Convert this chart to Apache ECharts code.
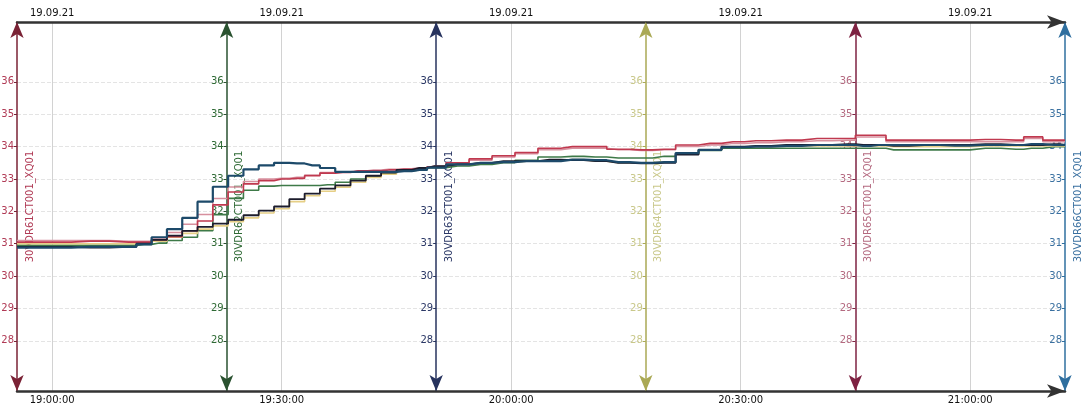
<!DOCTYPE html>
<html>
<head>
<meta charset="utf-8">
<script src="https://cdn.jsdelivr.net/npm/echarts@6/dist/echarts.min.js"></script>
<style>
  html, body { margin: 0; padding: 0; background: #ffffff; }
  #chart { width: 1083px; height: 408px; }
</style>
</head>
<body>
<div id="chart"></div>
<script>
// Time axis: minutes after 19:00 on 19.09.21
const tickMinutes = [0, 30, 60, 90, 120];
const timeLabels = ['19:00:00', '19:30:00', '20:00:00', '20:30:00', '21:00:00'];
const dateLabels = ['19.09.21', '19.09.21', '19.09.21', '19.09.21', '19.09.21'];

// Temperature scale ticks shared by every tag axis
const yTicks = [28, 29, 30, 31, 32, 33, 34, 35, 36];

const tagNames = [
  '30VDR61CT001_XQ01', '30VDR62CT001_XQ01', '30VDR63CT001_XQ01',
  '30VDR64CT001_XQ01', '30VDR65CT001_XQ01', '30VDR66CT001_XQ01'
];

// Sample times (minutes after 19:00)
const minutes = [
  -4.6, 0, 5, 10, 12, 14, 16, 18, 20, 22,
  24, 26, 28, 30, 32, 34, 36, 38, 40, 42,
  44, 46, 48, 50, 53, 56, 59, 62, 65, 68,
  71, 74, 77, 80, 83, 86, 89, 92, 96, 100,
  104, 106, 108, 110, 114, 118, 122, 126, 128, 131,
  132.4
];

const vdr61 = [
  31.05, 31.05, 31.08, 31.05, 31.05, 31.12, 31.22, 31.4, 31.7, 32.2,
  32.6, 32.85, 32.95, 33.0, 33.02, 33.1, 33.18, 33.2, 33.25, 33.25,
  33.28, 33.3, 33.3, 33.38, 33.5, 33.62, 33.72, 33.82, 33.95, 34.0,
  34.0, 33.92, 33.9, 33.92, 34.05, 34.1, 34.15, 34.18, 34.2, 34.25,
  34.25, 34.35, 34.35, 34.2, 34.2, 34.2, 34.22, 34.2, 34.3, 34.2,
  34.2
];
const vdr62 = [
  30.95, 30.95, 30.95, 30.95, 30.98, 31.02, 31.1, 31.2, 31.4, 31.9,
  32.4, 32.65, 32.78, 32.8, 32.8, 32.8, 32.82, 32.9, 33.0, 33.08,
  33.18, 33.25, 33.28, 33.35, 33.4, 33.45, 33.5, 33.58, 33.68, 33.7,
  33.68, 33.65, 33.65, 33.7, 33.78, 33.88, 33.95, 33.95, 33.95, 33.95,
  33.95, 33.95, 33.95, 33.9, 33.9, 33.9, 33.95, 33.92, 33.95, 34.0,
  34.0
];
const vdr63 = [
  30.9, 30.9, 30.88, 30.9, 31.0, 31.12, 31.25, 31.4, 31.52, 31.62,
  31.74, 31.88, 32.02, 32.15, 32.38, 32.55, 32.7, 32.8, 32.95, 33.1,
  33.2, 33.28, 33.34, 33.4, 33.45, 33.5, 33.55, 33.55, 33.6, 33.58,
  33.55, 33.5, 33.48, 33.5, 33.75, 33.9, 34.0, 34.02, 34.05, 34.05,
  34.08, 34.05, 34.05, 34.02, 34.05, 34.05, 34.08, 34.05, 34.05, 34.08,
  34.05
];
const vdr64 = [
  31.0, 31.0, 31.0, 31.0, 31.0, 31.08, 31.2, 31.32, 31.45, 31.55,
  31.68, 31.8, 31.95, 32.08, 32.3, 32.48, 32.62, 32.75, 32.9, 33.05,
  33.15, 33.25, 33.3, 33.38, 33.45, 33.5, 33.52, 33.55, 33.58, 33.6,
  33.55, 33.5, 33.5, 33.52, 33.78, 33.9, 33.98, 34.0, 34.02, 34.02,
  34.02, 34.02, 34.02, 34.0, 34.0, 34.0, 34.02, 34.02, 34.02, 34.02,
  34.02
];
const vdr65 = [
  31.1, 31.1, 31.1, 31.08, 31.08, 31.18, 31.35, 31.6, 31.9, 32.4,
  32.75, 32.92, 33.0, 33.02, 33.05, 33.12, 33.2, 33.22, 33.25, 33.28,
  33.3, 33.32, 33.35, 33.4, 33.5, 33.58, 33.68, 33.78, 33.9, 33.95,
  33.95, 33.9, 33.88, 33.9, 34.0, 34.05, 34.1, 34.12, 34.15, 34.18,
  34.2, 34.3, 34.3, 34.15, 34.15, 34.15, 34.15, 34.15, 34.25, 34.15,
  34.15
];
const vdr66 = [
  30.88, 30.88, 30.9, 30.9, 30.98, 31.2, 31.45, 31.8, 32.3, 32.76,
  33.1, 33.3, 33.42, 33.5, 33.48, 33.42, 33.34, 33.22, 33.22, 33.22,
  33.22, 33.24, 33.28, 33.35, 33.45, 33.5, 33.52, 33.55, 33.55, 33.6,
  33.58, 33.52, 33.5, 33.52, 33.8, 33.9, 33.98, 34.0, 34.02, 34.05,
  34.05, 34.02, 34.05, 34.05, 34.05, 34.03, 34.05, 34.05, 34.08, 34.05,
  34.05
];

const tagValues = [vdr61, vdr62, vdr63, vdr64, vdr65, vdr66];

// Per-tag styling: axis line, tick label, tag name and trace colours
const axisColors  = ['#7a2235', '#2a5230', '#27335e', '#aaa955', '#7e2242', '#2f6f9f'];
const labelColors = ['#b03a55', '#2f6a35', '#2b3866', '#c9c88a', '#b46a80', '#3a70a0'];
const lineColors  = ['#c0394f', '#3e7a48', '#1c1c2c', '#e6cf86', '#d7909e', '#1d4a6a'];
const lineWidths  = [1.6, 1.6, 1.8, 1.6, 1.5, 2.2];
const drawOrder   = [1, 3, 4, 0, 2, 5];

const FONT = 'DejaVu Sans';
const gridLeft = 17, gridRight = 18;
const gridWidth = 1083 - gridLeft - gridRight;

function tagAxis(i) {
  return {
    type: 'value',
    min: 26.45,
    max: 37.85,
    position: 'left',
    offset: -i * gridWidth / 5,
    name: tagNames[i],
    nameLocation: 'middle',
    nameRotate: 90,
    nameGap: -18,
    nameMoveOverlap: false,
    nameTextStyle: { color: labelColors[i], fontSize: 10, fontFamily: FONT },
    axisLine: {
      show: true,
      onZero: false,
      symbol: ['arrow', 'arrow'],
      symbolSize: [10, 16],
      lineStyle: { color: axisColors[i], width: 1.5 }
    },
    axisTick: { show: true, length: 3, customValues: yTicks, lineStyle: { color: axisColors[i] } },
    axisLabel: { customValues: yTicks, color: labelColors[i], fontSize: 10, fontFamily: FONT, margin: 3 },
    splitLine: { show: i === 0, lineStyle: { color: '#e4e4e4', type: 'dashed', width: 1 } }
  };
}

function timeAxis(pos, labels) {
  return {
    type: 'value',
    position: pos,
    min: -4.6,
    max: 132.4,
    axisLine: {
      show: true,
      onZero: false,
      symbol: ['none', 'arrow'],
      symbolSize: [10, 18],
      lineStyle: { color: '#333333', width: 2.5 }
    },
    axisTick: { show: false, customValues: tickMinutes },
    axisLabel: {
      customValues: tickMinutes,
      formatter: v => labels[tickMinutes.indexOf(v)] || '',
      color: '#111111',
      fontSize: 10,
      fontFamily: FONT,
      margin: 4
    },
    splitLine: { show: pos === 'bottom', lineStyle: { color: '#d2d2d2', width: 1 } }
  };
}

const series = drawOrder.map(i => ({
  type: 'line',
  name: tagNames[i],
  xAxisIndex: 0,
  yAxisIndex: i,
  step: 'middle',
  showSymbol: false,
  animation: false,
  lineStyle: { color: lineColors[i], width: lineWidths[i] },
  data: minutes.map((m, k) => [m, tagValues[i][k]])
}));

const chart = echarts.init(document.getElementById('chart'));
chart.setOption({
  backgroundColor: '#ffffff',
  animation: false,
  grid: { left: gridLeft, right: gridRight, top: 22, bottom: 17, outerBoundsMode: 'none', containLabel: false },
  xAxis: [timeAxis('bottom', timeLabels), timeAxis('top', dateLabels)],
  yAxis: [0, 1, 2, 3, 4, 5].map(tagAxis),
  series: series
});
</script>
</body>
</html>
